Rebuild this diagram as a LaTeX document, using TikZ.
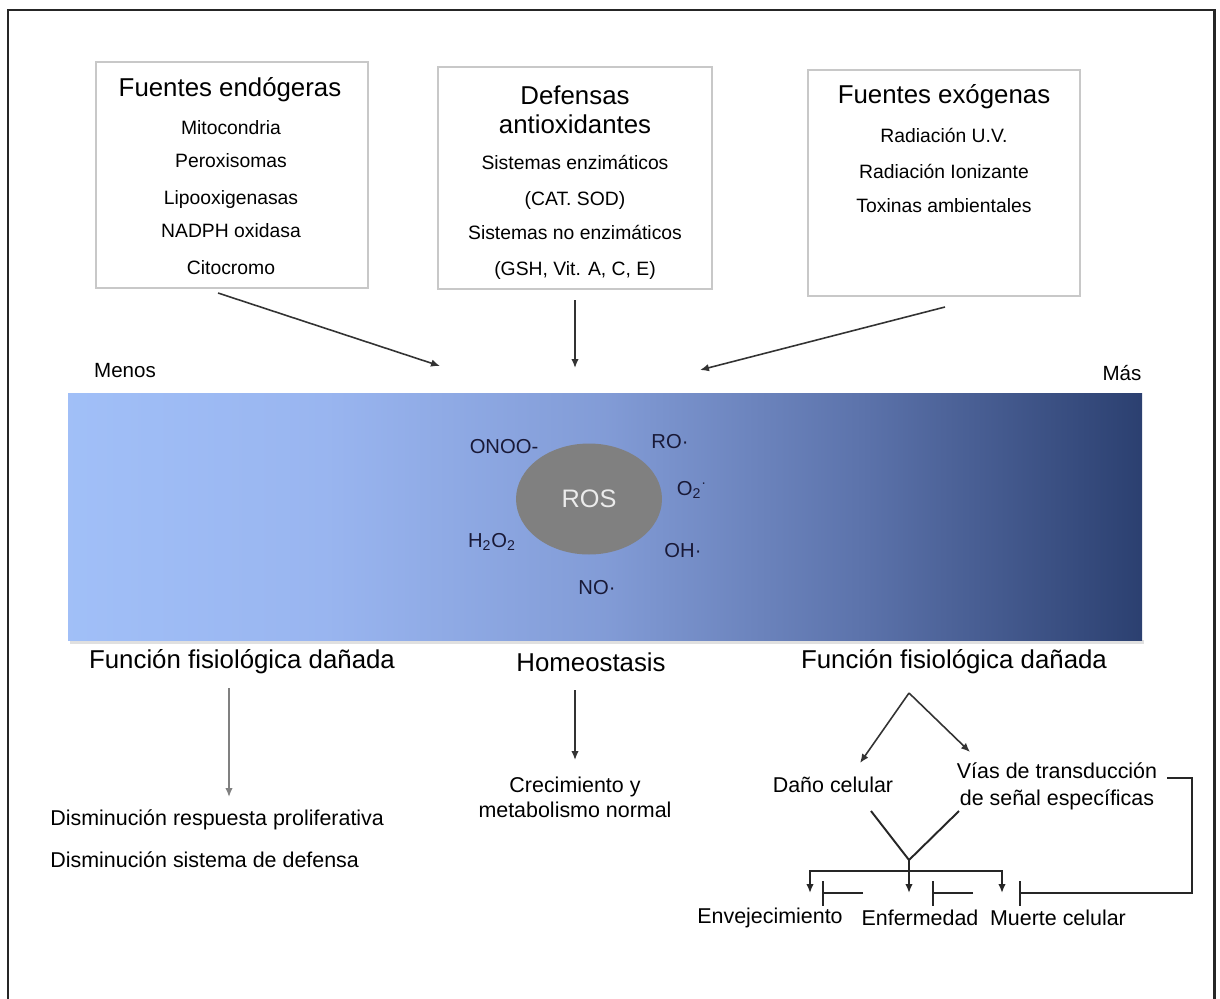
\documentclass[tikz,border=0pt]{standalone}
\usepackage{fontspec}
\setmainfont{Liberation Sans}
\usetikzlibrary{arrows.meta,shapes.geometric}
\definecolor{boxgray}{RGB}{200,200,200}
\definecolor{rosgray}{RGB}{128,128,128}
\definecolor{spcink}{RGB}{25,25,55}
\pgfdeclarehorizontalshading{rosbar}{100bp}{rgb(0bp)=(0.63,0.75,0.97); rgb(25bp)=(0.63,0.75,0.97); rgb(37bp)=(0.60,0.71,0.94); rgb(50bp)=(0.51,0.61,0.84); rgb(62bp)=(0.36,0.45,0.67); rgb(75bp)=(0.17,0.25,0.44); rgb(100bp)=(0.17,0.25,0.44)}

\begin{document}
\begin{tikzpicture}[
  x=0.02cm, y=-0.02cm,
  srcbox/.style={rectangle, draw=boxgray, line width=1.4pt, fill=white,
                 minimum width=5.44cm, minimum height=4.52cm},
  hd/.style={font=\fontsize{14.7}{17}\selectfont, inner sep=0pt},
  itm/.style={font=\fontsize{11}{13}\selectfont, inner sep=0pt},
  lbl/.style={font=\fontsize{12.2}{14.5}\selectfont, inner sep=0pt, align=center},
  spc/.style={font=\fontsize{11.5}{13}\selectfont, inner sep=0pt, text=spcink},
  ar/.style={-{Latex[length=1.8mm,width=1.5mm]}, line width=0.9pt, draw=black!80},
  ln/.style={line width=1.1pt, draw=black!85},
  inh/.style={-{Bar[width=5mm, line width=1.4pt]}, line width=1.1pt, draw=black!85}
]
\useasboundingbox (0,0) rectangle (1220,998);
\fill[white] (0,0) rectangle (1220,998);
\draw[line width=1.7pt, black!85] (8,1005) -- (8,10) -- (1214,10) -- (1214,1005);

% sources and defences
\node[srcbox] (endo) at (232,175) {};
\node[hd]  (endoT) at (230,90)  {Fuentes endógeras};
\node[itm] (mito)  at (231,128) {Mitocondria};
\node[itm] (perox) at (231,161) {Peroxisomas};
\node[itm] (lipo)  at (231,199) {Lipooxigenasas};
\node[itm] (nadph) at (231,231) {NADPH oxidasa};
\node[itm] (cito)  at (231,268) {Citocromo};

\node[srcbox, minimum width=5.48cm, minimum height=4.44cm] (defe) at (575,178) {};
\node[hd]  (defeT) at (575,95)  {Defensas};
\node[hd]  (defeU) at (575,124) {antioxidantes};
\node[itm] (enz)   at (575,162) {Sistemas enzimáticos};
\node[itm] (cat)   at (575,200) {(CAT. SOD)};
\node[itm] (noenz) at (575,232) {Sistemas no enzimáticos};
\node[itm] (gsh)   at (575,270) {(GSH, Vit. A, C, E)};

\node[srcbox] (exo) at (944,183) {};
\node[hd]  (exoT) at (944,97)  {Fuentes exógenas};
\node[itm] (uv)   at (944,135) {Radiación U.V.};
\node[itm] (ion)  at (944,171) {Radiación Ionizante};
\node[itm] (tox)  at (944,206) {Toxinas ambientales};

\coordinate (endoOut) at (218,293);  \coordinate (endoIn) at (440,366);
\coordinate (defeOut) at (575,300);  \coordinate (defeIn) at (575,368);
\coordinate (exoOut)  at (945,307);  \coordinate (exoIn)  at (700,370);
\draw[ar] (endoOut) -- (endoIn);
\draw[ar] (defeOut) -- (defeIn);
\draw[ar] (exoOut)  -- (exoIn);

% ROS scale
\node[itm, font=\fontsize{11.7}{13}\selectfont] (menos) at (125,371) {Menos};
\node[itm, font=\fontsize{11.7}{13}\selectfont] (mas)   at (1122,373) {Más};
\fill[black!12] (70,640) rectangle (1144,644);
\shade[shading=rosbar] (68,393) rectangle (1142,640);
\node[ellipse, fill=rosgray, minimum width=2.92cm, minimum height=2.22cm,
      text=black!8, font=\fontsize{14.4}{16}\selectfont] (ros) at (589,499) {ROS};
\node[spc] (onoo) at (504,447) {ONOO-};
\node[spc] (ro)   at (670,442) {RO·};
\node[spc] (otwo) at (692,490) {O\textsubscript{2}\textsuperscript{·}};
\node[spc] (hoh)  at (492,542) {H\textsubscript{2}O\textsubscript{2}};
\node[spc] (oh)   at (683,551) {OH·};
\node[spc] (no)   at (597,588) {NO·};

% outcomes
\node[hd] (danoL) at (242,662) {Función fisiológica dañada};
\node[hd] (homeo) at (591,662) {Homeostasis};
\node[hd] (danoR) at (954,662) {Función fisiológica dañada};

\coordinate (danoLOut) at (229,688);  \coordinate (danoLIn) at (229,797);
\draw[ar, draw=black!50] (danoLOut) -- (danoLIn);
\node[lbl, anchor=west] (prolif)  at (50,820) {Disminución respuesta proliferativa};
\node[lbl, anchor=west] (defensa) at (50,860) {Disminución sistema de defensa};

\coordinate (homeoOut) at (575,690);  \coordinate (homeoIn) at (575,760);
\draw[ar] (homeoOut) -- (homeoIn);
\node[lbl, font=\fontsize{12.2}{14.2}\selectfont] (crec) at (575,797) {Crecimiento y\\metabolismo normal};

\coordinate (apex) at (909,693);
\coordinate (danoIn) at (860,763);
\coordinate (viasIn) at (970,752);
\draw[ar] (apex) -- (danoIn);
\draw[ar] (apex) -- (viasIn);
\node[lbl] (dano) at (833,785) {Daño celular};
\node[lbl, font=\fontsize{12.2}{15.3}\selectfont] (vias) at (1057,786) {Vías de transducción\\de señal específicas};

\coordinate (danoOut) at (871,811);
\coordinate (viasOut) at (959,811);
\coordinate (meet)    at (909,860);
\coordinate (split)   at (909,871);
\coordinate (tEnv) at (810,893);
\coordinate (tEnf) at (909,893);
\coordinate (tMue) at (1002,893);
\draw[ln] (danoOut) -- (meet);
\draw[ln] (viasOut) -- (meet);
\draw[ar, ln] (meet) -- (tEnf);
\draw[ar, ln] (split) -| (tEnv);
\draw[ar, ln] (split) -| (tMue);

\coordinate (iEnvA) at (863,893);  \coordinate (iEnvB) at (822,893);
\coordinate (iEnfA) at (973,893);  \coordinate (iEnfB) at (932,893);
\coordinate (viasR) at (1167,778); \coordinate (iMueB) at (1019,893);
\draw[inh] (iEnvA) -- (iEnvB);
\draw[inh] (iEnfA) -- (iEnfB);
\draw[inh] (viasR) -- (1192,778) -- (1192,893) -- (iMueB);

\node[lbl] (env) at (770,918)  {Envejecimiento};
\node[lbl] (enf) at (920,918)  {Enfermedad};
\node[lbl] (mue) at (1058,918) {Muerte celular};
\end{tikzpicture}
\end{document}
